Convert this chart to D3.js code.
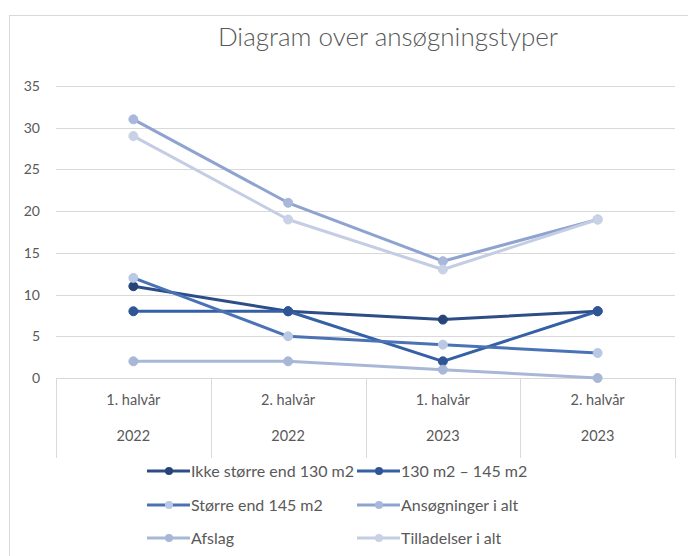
<!DOCTYPE html>
<html>
<head>
<meta charset="utf-8">
<script src="https://cdn.jsdelivr.net/npm/d3@7/dist/d3.min.js"></script>
<style>
  html, body { margin: 0; padding: 0; background: #ffffff; }
  svg { display: block; font-family: Lato, "Open Sans", sans-serif; }
</style>
</head>
<body>
<svg id="chart" width="688" height="556"></svg>
<script>
// Half-year periods and their year labels
const periods = ["1. halvår", "2. halvår", "1. halvår", "2. halvår"];
const years = ["2022", "2022", "2023", "2023"];

// Series (number of applications per half-year)
const ikkeStorreEnd130 = [11, 8, 7, 8];
const m130til145 = [8, 8, 2, 8];
const storreEnd145 = [12, 5, 4, 3];
const ansogningerIAlt = [31, 21, 14, 19];
const afslag = [2, 2, 1, 0];
const tilladelserIAlt = [29, 19, 13, 19];

const yTicks = [0, 5, 10, 15, 20, 25, 30, 35];

const series = [
  { name: "Ikke større end 130 m2", values: ikkeStorreEnd130, line: "#2c4d86", marker: "#264478" },
  { name: "130 m2 – 145 m2", values: m130til145, line: "#3560a6", marker: "#2f5597" },
  { name: "Større end 145 m2", values: storreEnd145, line: "#4a73b5", marker: "#b9c8e4" },
  { name: "Ansøgninger i alt", values: ansogningerIAlt, line: "#8ea3cf", marker: "#a9b8da" },
  { name: "Afslag", values: afslag, line: "#a9b7d6", marker: "#a9b7d6" },
  { name: "Tilladelser i alt", values: tilladelserIAlt, line: "#c4cde4", marker: "#c8d1e6" }
];

const svg = d3.select("#chart");
const textColor = "#595959";
const gridColor = "#d9d9d9";

// Chart frame
svg.append("rect")
  .attr("x", 9.5).attr("y", 15.5)
  .attr("width", 800).attr("height", 700)
  .attr("fill", "#ffffff")
  .attr("stroke", "#d9d9d9");

// Title
svg.append("text")
  .attr("x", 388).attr("y", 46)
  .attr("text-anchor", "middle")
  .attr("font-size", 26)
  .attr("font-weight", 300)
  .attr("fill", textColor)
  .text("Diagram over ansøgningstyper");

const plotLeft = 56, plotRight = 675, plotTop = 86, plotBottom = 378;

const x = d3.scaleBand()
  .domain(d3.range(periods.length))
  .range([plotLeft, plotRight])
  .padding(0);

const y = d3.scaleLinear()
  .domain([0, 35])
  .range([plotBottom, plotTop]);

// Horizontal gridlines
svg.append("g")
  .selectAll("line")
  .data(yTicks.filter(d => d > 0))
  .join("line")
  .attr("x1", plotLeft).attr("x2", plotRight)
  .attr("y1", d => Math.round(y(d)) + 0.5)
  .attr("y2", d => Math.round(y(d)) + 0.5)
  .attr("stroke", gridColor)
  .attr("stroke-width", 1);

// Y axis labels
const yAxis = d3.axisLeft(y)
  .tickValues(yTicks)
  .tickSize(0)
  .tickPadding(0);
const gy = svg.append("g")
  .attr("transform", "translate(40,0)")
  .call(yAxis);
gy.select(".domain").remove();
gy.selectAll("text")
  .attr("fill", textColor)
  .attr("font-size", 14)
  .attr("font-family", "Lato, sans-serif");

// X axis: baseline and category dividers
svg.append("line")
  .attr("x1", plotLeft).attr("x2", plotRight)
  .attr("y1", plotBottom + 0.5).attr("y2", plotBottom + 0.5)
  .attr("stroke", gridColor);

const dividers = d3.range(periods.length + 1).map(i =>
  i < periods.length ? x(i) : x(periods.length - 1) + x.bandwidth());
svg.append("g")
  .selectAll("line")
  .data(dividers)
  .join("line")
  .attr("x1", d => Math.round(d) + 0.5).attr("x2", d => Math.round(d) + 0.5)
  .attr("y1", plotBottom).attr("y2", 458)
  .attr("stroke", gridColor);

const xLabels = svg.append("g")
  .attr("font-size", 14.5)
  .attr("fill", textColor)
  .attr("text-anchor", "middle");
xLabels.selectAll("text.period")
  .data(periods)
  .join("text")
  .attr("class", "period")
  .attr("x", (d, i) => x(i) + x.bandwidth() / 2)
  .attr("y", 405)
  .text(d => d);
xLabels.selectAll("text.year")
  .data(years)
  .join("text")
  .attr("class", "year")
  .attr("x", (d, i) => x(i) + x.bandwidth() / 2)
  .attr("y", 441)
  .text(d => d);

// Lines and markers
const line = d3.line()
  .x((d, i) => x(i) + x.bandwidth() / 2)
  .y(d => y(d));

const seriesG = svg.append("g");
series.forEach(s => {
  const g = seriesG.append("g");
  g.append("path")
    .datum(s.values)
    .attr("d", line)
    .attr("fill", "none")
    .attr("stroke", s.line)
    .attr("stroke-width", 3)
    .attr("stroke-linejoin", "round");
  g.selectAll("circle")
    .data(s.values)
    .join("circle")
    .attr("cx", (d, i) => x(i) + x.bandwidth() / 2)
    .attr("cy", d => y(d))
    .attr("r", 4.5)
    .attr("fill", s.marker)
    .attr("stroke", s.marker);
});

// Legend (two columns, three rows)
const legendCols = [147, 357];
const legendRows = [471, 505, 538];
const legend = svg.append("g");
series.forEach((s, i) => {
  const lx = legendCols[i % 2];
  const ly = legendRows[Math.floor(i / 2)];
  const g = legend.append("g").attr("transform", `translate(${lx},${ly})`);
  g.append("line")
    .attr("x1", 0).attr("x2", 43)
    .attr("y1", 0).attr("y2", 0)
    .attr("stroke", s.line)
    .attr("stroke-width", 3);
  g.append("circle")
    .attr("cx", 22).attr("cy", 0).attr("r", 4)
    .attr("fill", s.marker);
  g.append("text")
    .attr("x", 44).attr("y", 5.5)
    .attr("font-size", 16)
    .attr("fill", textColor)
    .text(s.name);
});
</script>
</body>
</html>
